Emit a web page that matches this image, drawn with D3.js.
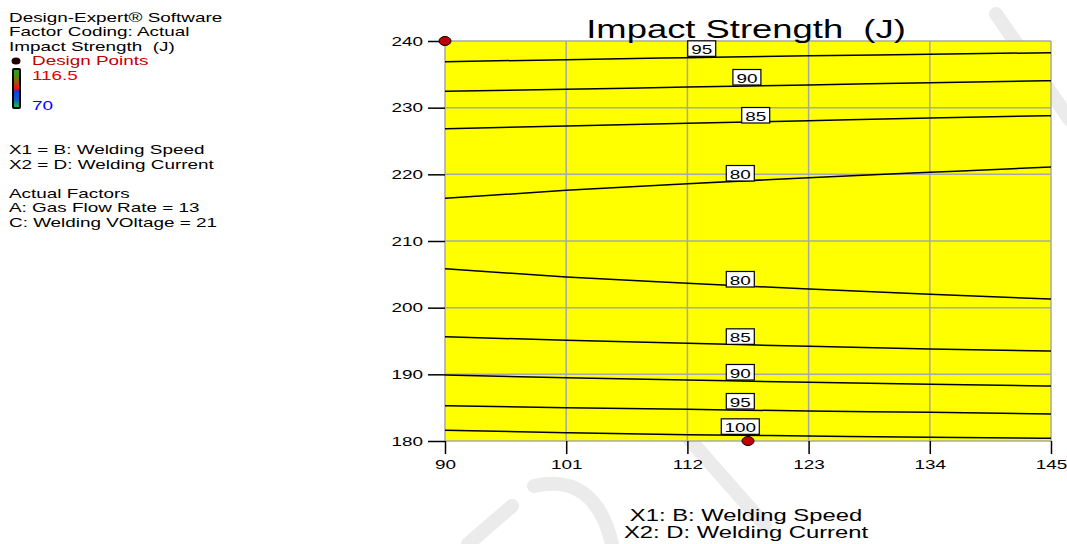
<!DOCTYPE html>
<html>
<head>
<meta charset="utf-8">
<style>
  body { margin: 0; background: #fff; }
  svg { font-family: "Liberation Sans", Arial, sans-serif; }
  text { white-space: pre; }
  .legend text { font-size: 13.5px; fill: #000; }
  .grid line { stroke: #a8a8a8; stroke-width: 1.5; }
  .axis text { font-size: 13.5px; fill: #000; }
  .axis path { display: none; }
  .axis line { stroke: #000; stroke-width: 1.5; }
  .contour { fill: none; stroke: #000; stroke-width: 1.5; }
  .clabel rect { fill: #fff; stroke: #000; stroke-width: 1.2; }
  .clabel text { font-size: 13.5px; text-anchor: middle; }
</style>
</head>
<body>
<svg width="1067" height="544"></svg>
<script src="https://cdn.jsdelivr.net/npm/d3@7"></script>
<script>

// axis ticks
var xTicks = [90, 101, 112, 123, 134, 145]
var yTicks = [180, 190, 200, 210, 220, 230, 240]

// contour lines: level, then current (y) read at x = 90, 101, 112, 123, 134, 145
var contourX = [90, 101, 112, 123, 134, 145]
var contourLevels = [95, 90, 85, 80, 80, 85, 90, 95, 100]
var contourY = [
  [236.9, 237.2, 237.5, 237.8, 238.0, 238.25],
  [232.45, 232.75, 233.1, 233.4, 233.75, 234.05],
  [226.85, 227.25, 227.65, 228.05, 228.45, 228.8],
  [216.4, 217.6, 218.6, 219.5, 220.3, 221.1],
  [205.85, 204.6, 203.65, 202.8, 202.0, 201.3],
  [195.65, 195.1, 194.65, 194.2, 193.8, 193.5],
  [189.9, 189.5, 189.15, 188.8, 188.5, 188.25],
  [185.3, 185.0, 184.75, 184.5, 184.3, 184.05],
  [181.6, 181.25, 180.95, 180.75, 180.55, 180.4]
]
// where each contour label sits (welding speed, current)
var labelX = [113.3, 117.4, 118.2, 116.8, 116.8, 116.8, 116.8, 116.8, 116.8]
var labelY = [238.9, 234.6, 228.9, 220.2, 204.3, 195.7, 190.35, 186.0, 182.2]

// design points
var designX = [90, 117.5]
var designY = [240, 180]

var legendLines = ["Design-Expert® Software", "Factor Coding: Actual", "Impact Strength  (J)"]
var factorLines = ["X1 = B: Welding Speed", "X2 = D: Welding Current", "", "Actual Factors", "A: Gas Flow Rate = 13", "C: Welding VOltage = 21"]

// the original renders its text stretched sideways
var SX = 1.4

var svg = d3.select("svg")

function stext(parent, x, y, str, anchor) {
  return parent.append("text")
    .attr("transform", "translate(" + x + "," + y + ") scale(" + SX + ",1)")
    .attr("text-anchor", anchor || "start")
    .text(str)
}

// faint watermark strokes behind everything
var wm = svg.append("g").attr("stroke", "#ebebeb").attr("stroke-width", 14)
  .attr("fill", "none").attr("stroke-linecap", "round")
wm.append("path").attr("d", "M996,14 L1070,120")
wm.append("path").attr("d", "M468,544 L512,506")
wm.append("path").attr("d", "M534,486 Q595,472 612,544")
wm.append("path").attr("d", "M690,440 L765,525")

var x = d3.scaleLinear().domain([90, 145]).range([445, 1051])
var y = d3.scaleLinear().domain([180, 240]).range([441, 41])

// plot background
svg.append("rect")
  .attr("x", x(90)).attr("y", y(240))
  .attr("width", x(145) - x(90)).attr("height", y(180) - y(240))
  .attr("fill", "#ffff00")

// grid
var grid = svg.append("g").attr("class", "grid")
grid.selectAll(".gx").data(xTicks).enter().append("line")
  .attr("x1", d => x(d)).attr("x2", d => x(d))
  .attr("y1", y(180)).attr("y2", y(240))
grid.selectAll(".gy").data(yTicks).enter().append("line")
  .attr("x1", x(90)).attr("x2", x(145))
  .attr("y1", d => y(d)).attr("y2", d => y(d))

// contours
var line = d3.line()
  .x(function(d, i) { return x(contourX[i]) })
  .y(function(d) { return y(d) })
  .curve(d3.curveMonotoneX)

svg.append("g").selectAll("path").data(contourY).enter().append("path")
  .attr("class", "contour")
  .attr("d", line)

// contour labels
var labels = svg.append("g").selectAll("g").data(contourLevels).enter().append("g")
  .attr("class", "clabel")
  .attr("transform", function(d, i) { return "translate(" + x(labelX[i]) + "," + y(labelY[i]) + ")" })
labels.append("rect")
  .attr("x", d => d >= 100 ? -19 : -14)
  .attr("y", -7.5)
  .attr("width", d => d >= 100 ? 38 : 28)
  .attr("height", 15.5)
labels.append("text")
  .attr("transform", "translate(0,5.5) scale(" + SX + ",1)")
  .text(d => d)

// axes
var gx = svg.append("g").attr("class", "axis")
  .attr("transform", "translate(0," + y(180) + ")")
  .call(d3.axisBottom(x).tickValues(xTicks).tickSize(13).tickPadding(5))
gx.selectAll("text").attr("transform", "scale(" + SX + ",1)")

var gy = svg.append("g").attr("class", "axis")
  .attr("transform", "translate(" + x(90) + ",0)")
  .call(d3.axisLeft(y).tickValues(yTicks).tickSize(17))
gy.selectAll("text").attr("x", -22 / SX).attr("transform", "scale(" + SX + ",1)")

// design points
svg.append("g").selectAll("ellipse").data(designX).enter().append("ellipse")
  .attr("cx", d => x(d))
  .attr("cy", function(d, i) { return y(designY[i]) })
  .attr("rx", 6).attr("ry", 4.5)
  .attr("fill", "#c00000").attr("stroke", "#000").attr("stroke-width", 1)

// title and axis titles
stext(svg, 746, 38, "Impact Strength  (J)", "middle").style("font-size", "26px")
stext(svg, 746, 521, "X1: B: Welding Speed", "middle").style("font-size", "17px")
stext(svg, 746, 538, "X2: D: Welding Current", "middle").style("font-size", "17px")

// left legend
var leg = svg.append("g").attr("class", "legend")
legendLines.forEach(function(d, i) { stext(leg, 9, 22 + i * 14.3, d) })
leg.append("ellipse").attr("cx", 16).attr("cy", 61).attr("rx", 4.5).attr("ry", 3.5)
  .attr("fill", "#200000")
stext(leg, 32, 65, "Design Points").style("fill", "#c00000")

var grad = svg.append("defs").append("linearGradient")
  .attr("id", "bar").attr("x1", 0).attr("x2", 0).attr("y1", 0).attr("y2", 1)
var stops = [[0, "#18b018"], [0.25, "#6a7a10"], [0.45, "#e02010"], [0.52, "#e01010"], [0.56, "#1838e0"], [0.8, "#1060c0"], [1, "#10d030"]]
grad.selectAll("stop").data(stops).enter().append("stop")
  .attr("offset", d => d[0]).attr("stop-color", d => d[1])
leg.append("rect").attr("x", 13).attr("y", 69).attr("width", 7).attr("height", 39)
  .attr("fill", "url(#bar)").attr("stroke", "#000").attr("stroke-width", 2).attr("rx", 1)
stext(leg, 32, 80, "116.5").style("fill", "#e00000")
stext(leg, 32, 110, "70").style("fill", "#0000ff")

factorLines.forEach(function(d, i) { stext(leg, 9, 154 + i * 14.5, d) })

</script>
</body>
</html>
